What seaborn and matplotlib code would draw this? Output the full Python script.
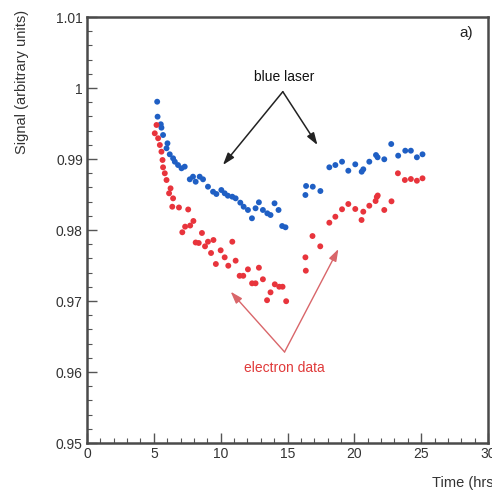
import matplotlib
matplotlib.use('Agg')

import numpy as np
import pandas as pd
import matplotlib.pyplot as plt
from matplotlib.ticker import MultipleLocator
import seaborn as sns

sns.set_theme(style="white")
plt.rcParams['font.family'] = ['Liberation Sans', 'DejaVu Sans']

# ─────────────────────────────────────────
# data
# ─────────────────────────────────────────
blue_t = [5.25, 5.28, 5.52, 5.57, 5.69, 6.02, 5.95, 6.19, 6.44, 6.57,
          6.81, 7.07, 7.31, 7.69, 7.93, 8.13, 8.43, 8.68, 9.05, 9.43,
          9.68, 10.05, 10.30, 10.54, 10.87, 11.12, 11.47, 11.72, 12.04, 12.34,
          12.61, 12.86, 13.16, 13.49, 13.73, 14.03, 14.33, 14.60, 14.85,
          16.34, 16.39, 16.89, 17.46, 18.13, 18.58, 19.08, 19.55, 20.07, 20.55,
          20.67, 21.12, 21.62, 21.74, 22.24, 22.76, 23.28, 23.81, 24.23, 24.68,
          25.10]
blue_sig = [0.99807, 0.99596, 0.99489, 0.99441, 0.99338, 0.99221, 0.99151, 0.99066, 0.99010, 0.98962,
            0.98915, 0.98869, 0.98892, 0.98714, 0.98751, 0.98680, 0.98751, 0.98714, 0.98610, 0.98539,
            0.98507, 0.98563, 0.98517, 0.98483, 0.98469, 0.98446, 0.98385, 0.98328, 0.98282, 0.98165,
            0.98306, 0.98390, 0.98282, 0.98235, 0.98211, 0.98376, 0.98282, 0.98056, 0.98038,
            0.98493, 0.98620, 0.98610, 0.98549, 0.98883, 0.98915, 0.98962, 0.98835, 0.98925, 0.98821,
            0.98855, 0.98962, 0.99056, 0.99024, 0.98996, 0.99211, 0.99047, 0.99117, 0.99117, 0.99024,
            0.99066]

red_t = [5.20, 5.07, 5.32, 5.45, 5.57, 5.65, 5.69, 5.82, 5.95, 6.25,
         6.14, 6.44, 6.38, 6.88, 7.57, 7.96, 7.72, 7.34, 7.13, 8.60,
         8.13, 8.36, 9.05, 9.46, 8.83, 10.87, 9.28, 10.00, 10.30, 9.64,
         11.12, 10.57, 12.04, 12.86, 11.42, 11.69, 13.16, 12.35, 12.61, 14.05,
         14.38, 14.63, 13.73, 13.47, 14.90,
         16.37, 16.34, 16.87, 17.45, 18.13, 18.58, 19.08, 19.55, 20.07, 20.54,
         20.67, 21.12, 21.59, 21.68, 21.75, 22.24, 22.78, 23.26, 23.78, 24.23,
         24.68, 25.10]
red_sig = [0.99479, 0.99362, 0.99292, 0.99197, 0.99103, 0.98986, 0.98883, 0.98799, 0.98704, 0.98587,
           0.98517, 0.98446, 0.98328, 0.98317, 0.98289, 0.98127, 0.98063, 0.98047, 0.97968, 0.97958,
           0.97824, 0.97817, 0.97835, 0.97859, 0.97770, 0.97835, 0.97676, 0.97714, 0.97615, 0.97521,
           0.97568, 0.97497, 0.97446, 0.97469, 0.97355, 0.97355, 0.97306, 0.97249, 0.97249, 0.97235,
           0.97201, 0.97201, 0.97122, 0.97011, 0.96997,
           0.97427, 0.97615, 0.97915, 0.97770, 0.98103, 0.98187, 0.98292, 0.98366, 0.98296, 0.98141,
           0.98258, 0.98342, 0.98408, 0.98465, 0.98486, 0.98282, 0.98404, 0.98799, 0.98704, 0.98718,
           0.98694, 0.98728]

df = pd.concat([
    pd.DataFrame({"time": blue_t, "signal": blue_sig, "series": "blue laser"}),
    pd.DataFrame({"time": red_t, "signal": red_sig, "series": "electron data"}),
])

palette = {"blue laser": "#1f5fc4", "electron data": "#e8343c"}

# ─────────────────────────────────────────
# figure
# ─────────────────────────────────────────
fig = plt.figure(figsize=(4.92, 4.94), dpi=100)
ax = fig.add_axes([87 / 492, 1 - 443 / 494, (488 - 87) / 492, (443 - 17) / 494])

sns.scatterplot(data=df, x="time", y="signal", hue="series", palette=palette,
                s=18, edgecolor='none', legend=False, ax=ax)

ax.set_xlim(0, 30)
ax.set_ylim(0.95, 1.01)
ax.xaxis.set_major_locator(MultipleLocator(5))
ax.xaxis.set_minor_locator(MultipleLocator(1))
ax.yaxis.set_major_locator(MultipleLocator(0.01))
ax.yaxis.set_minor_locator(MultipleLocator(0.002))
ax.set_yticks([0.95, 0.96, 0.97, 0.98, 0.99, 1.0, 1.01])
ax.set_yticklabels(["0.95", "0.96", "0.97", "0.98", "0.99", "1", "1.01"])
ax.tick_params(which='major', direction='in', length=7, width=1, color='#555555',
               labelsize=10, labelcolor='#333333', pad=3)
ax.tick_params(which='minor', direction='in', length=3.5, width=0.8, color='#555555')
ax.tick_params(axis='x', which='both', bottom=True, top=False)
ax.tick_params(axis='y', which='both', left=True, right=False)
for sp in ax.spines.values():
    sp.set_color('#4a4a4a')
    sp.set_linewidth(1.8)
ax.set_xlabel("")
ax.set_ylabel("")

# annotations
ax.text(14.78, 1.00155, "blue laser", ha='center', va='center', fontsize=10, color='#111111')
for tip in [(10.17, 0.98916), (17.24, 0.99197)]:
    ax.annotate("", xy=tip, xytext=(14.65, 0.99948),
                arrowprops=dict(arrowstyle='-|>,head_length=0.6,head_width=0.2',
                                color='#222222', lw=1.1, shrinkA=0, shrinkB=0))

ax.text(14.78, 0.96056, "electron data", ha='center', va='center', fontsize=10, color='#e03a3a')
for tip in [(10.75, 0.97131), (18.81, 0.97732)]:
    ax.annotate("", xy=tip, xytext=(14.78, 0.96282),
                arrowprops=dict(arrowstyle='-|>,head_length=0.6,head_width=0.2',
                                color='#d9666a', lw=1.0, shrinkA=0, shrinkB=0))

ax.text(28.4, 1.00775, "a)", ha='center', va='center', fontsize=11, color='#222222')

fig.text(22 / 492, 1 - 10 / 494, "Signal (arbitrary units)", rotation=90,
         ha='center', va='top', fontsize=10.5, color='#333333')
fig.text(432 / 492, 1 - 483 / 494, "Time (hrs)", ha='left', va='center',
         fontsize=10.5, color='#333333')

fig.savefig("out.png", dpi=100)
plt.close(fig)
